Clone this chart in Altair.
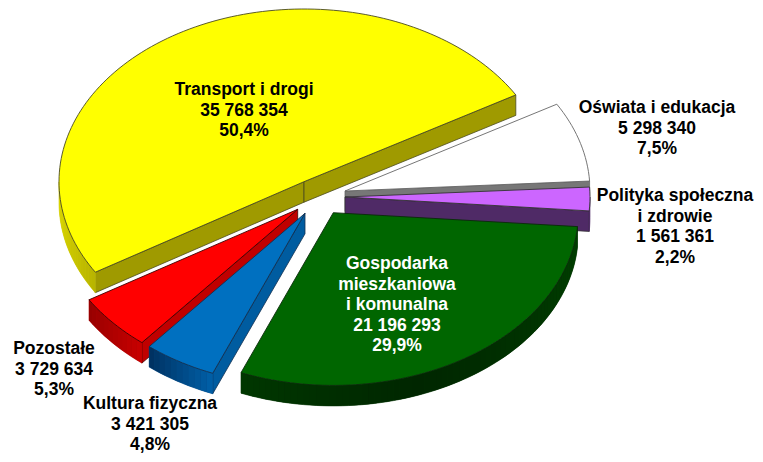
import math
import altair as alt

# ---- data ----
names = ["Transport i drogi", "Oświata i edukacja", "Polityka społeczna\ni zdrowie",
         "Gospodarka\nmieszkaniowa\ni komunalna", "Kultura fizyczna", "Pozostałe"]
values = [35768354, 5298340, 1561361, 21196293, 3421305, 3729634]
percents = ["50,4%", "7,5%", "2,2%", "29,9%", "4,8%", "5,3%"]

# ---- styling / layout ----
surface = ["#FFFF00", "#FFFFFF", "#CC66FF", "#006600", "#0070C0", "#FF0000"]
radial = ["#9F9A00", "#777777", "#4F2A66", "#003300", "#005CA0", "#C00000"]
arc_from = ["#B8B400", "#777777", "#4F2A66", "#002600", "#00305F", "#960000"]   # colour at front
arc_to = ["#E2DE00", "#777777", "#4F2A66", "#004000", "#0060A8", "#C80000"]     # colour at the side
edge = ["#4A4A20", "#666666", "#333333", "#0A2A0A", "#123050", "#400000"]
apex = [(304, 181.7), (345, 191), (345, 197), (333.3, 212.7), (305, 213.3), (297.7, 209.3)]
label_pos = [(244, 90), (657, 108), (675, 196), (397, 264), (150, 404), (54, 349)]
label_col = ["#000000", "#000000", "#000000", "#FFFFFF", "#000000", "#000000"]
order = [0, 1, 2, 3, 5, 4]    # painter's order
RX, RY, DEPTH, START, MARGIN = 245, 172.7, 20.5, -121.6, 8


def pt(c, th, dz=0.0):
    t = math.radians(th)
    return [c[0] + RX * math.sin(t) - MARGIN, c[1] - RY * math.cos(t) + dz - MARGIN]


def mix(a, b, f):
    ca = [int(a[i:i + 2], 16) for i in (1, 3, 5)]
    cb = [int(b[i:i + 2], 16) for i in (1, 3, 5)]
    return "#%02x%02x%02x" % tuple(round(x + (y - x) * f) for x, y in zip(ca, cb))


def feat(ring, fill, stroke, sw):
    return {"type": "Feature",
            "properties": {"fill": fill, "stroke": stroke, "sw": sw},
            "geometry": {"type": "Polygon", "coordinates": [ring + [ring[0]]]}}


total = sum(values)
spans = []
a = START
for v in values:
    s = v / total * 360
    spans.append((a, a + s))
    a += s

features = []
for i in order:
    th0, th1 = spans[i]
    c = apex[i]
    a0 = [c[0] - MARGIN, c[1] - MARGIN]
    a1 = [a0[0], a0[1] + DEPTH]
    # radial walls
    if math.sin(math.radians(th0)) < 0:
        features.append(feat([a0, pt(c, th0), pt(c, th0, DEPTH), a1], radial[i], edge[i], 0.8))
    if math.sin(math.radians(th1)) > 0:
        features.append(feat([a0, pt(c, th1), pt(c, th1, DEPTH), a1], radial[i], edge[i], 0.8))
    # curved wall, lit by its facing direction
    if i == 0:
        lo, hi = th0, -90
    else:
        lo, hi = max(th0, 90), min(th1, 270)
    if hi > lo:
        n = max(2, int((hi - lo) / 1.5))
        steps = [lo + (hi - lo) * k / n for k in range(n + 1)]
        base = [pt(c, s) for s in steps] + [pt(c, s, DEPTH) for s in reversed(steps)]
        features.append(feat(base, mix(arc_from[i], arc_to[i], 0.5), mix(arc_from[i], arc_to[i], 0.5), 0.6))
        for p, q in zip(steps, steps[1:]):
            m = (p + q) / 2
            if i == 3:
                f = abs(m - 160) / 65
            else:
                f = (m - lo) / (hi - lo)
                if i in (4, 5):
                    f = 1 - f
            col = mix(arc_from[i], arc_to[i], min(1, f))
            features.append(feat([pt(c, p), pt(c, q), pt(c, q, DEPTH), pt(c, p, DEPTH)], col, col, 0))
    # top surface
    n = max(4, int((th1 - th0) / 1.5))
    rim = [pt(c, th0 + (th1 - th0) * k / n) for k in range(n + 1)]
    features.append(feat([a0] + rim, surface[i], edge[i], 0.9))

pie = alt.Chart(alt.InlineData(values={"type": "FeatureCollection", "features": features},
                               format=alt.DataFormat(property="features", type="json"))
                ).mark_geoshape().encode(
    fill=alt.Fill("properties.fill:N", scale=None),
    stroke=alt.Stroke("properties.stroke:N", scale=None),
    strokeWidth=alt.StrokeWidth("properties.sw:Q", scale=None),
).project(type="identity", scale=1, translate=[0, 0])


def grp(v):
    s = str(v)
    parts = []
    while s:
        parts.insert(0, s[-3:])
        s = s[:-3]
    return " ".join(parts)


rows = [{"t": f"{n}\n{grp(v)}\n{p}", "x": lp[0] - MARGIN, "y": lp[1] - MARGIN, "c": col}
        for n, v, p, lp, col in zip(names, values, percents, label_pos, label_col)]

labels = alt.Chart(alt.Data(values=rows)).mark_text(
    font="Liberation Sans", fontWeight="bold", fontSize=17.5, lineHeight=20.6,
    lineBreak="\n", align="center", baseline="middle",
).encode(
    x=alt.X("x:Q", scale=None), y=alt.Y("y:Q", scale=None),
    text="t:N", color=alt.Color("c:N", scale=None),
)

chart = alt.layer(pie, labels).properties(
    width=747, height=446, padding=0, autosize=alt.AutoSizeParams(type="none"),
    background="white",
).configure_view(stroke=None)

chart.save("out.html", embed_options={"renderer": "svg", "actions": False})
